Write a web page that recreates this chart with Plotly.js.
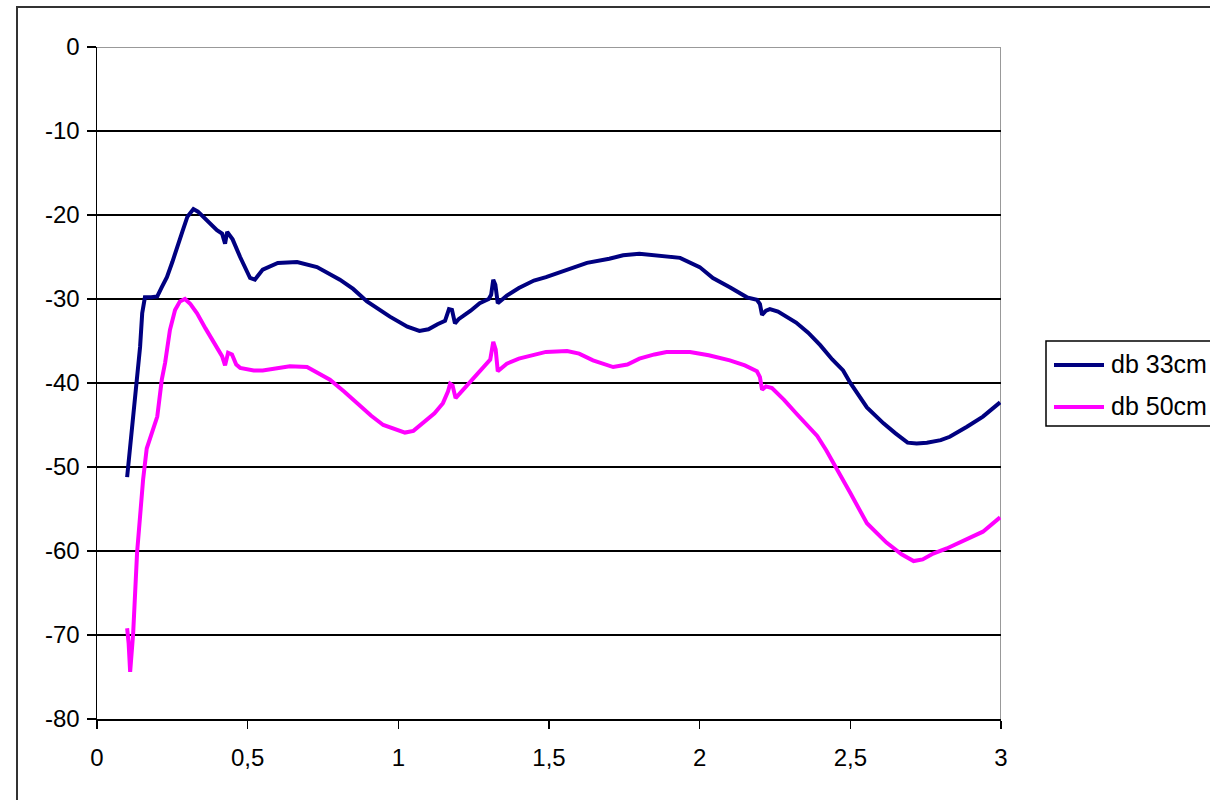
<!DOCTYPE html>
<html>
<head>
<meta charset="utf-8">
<script src="https://cdn.plot.ly/plotly-3.0.1.min.js"></script>
<style>html,body{margin:0;padding:0;background:#fff;}#chart{width:1210px;height:800px;}</style>
</head>
<body>
<div id="chart"></div>
<script>
// db 33cm series
var x33 = [0.100,0.110,0.120,0.133,0.143,0.150,0.159,0.180,0.200,0.215,0.232,0.250,0.265,0.283,0.300,0.320,0.335,0.365,0.398,0.415,0.425,0.432,0.440,0.450,0.475,0.495,0.508,0.524,0.550,0.600,0.664,0.730,0.806,0.850,0.896,0.972,1.030,1.070,1.100,1.130,1.155,1.168,1.178,1.188,1.200,1.240,1.270,1.300,1.308,1.315,1.322,1.330,1.360,1.400,1.450,1.490,1.550,1.626,1.700,1.746,1.800,1.868,1.935,2.000,2.044,2.100,2.157,2.190,2.200,2.207,2.220,2.233,2.260,2.320,2.360,2.400,2.440,2.476,2.500,2.555,2.610,2.650,2.690,2.720,2.754,2.800,2.830,2.887,2.940,2.997];
var y33 = [-51.2,-47.6,-43.6,-39.6,-35.7,-31.7,-29.8,-29.8,-29.7,-28.6,-27.4,-25.6,-23.8,-22.0,-20.2,-19.3,-19.6,-20.6,-21.8,-22.2,-23.4,-22.0,-22.4,-22.9,-25.0,-26.7,-27.5,-27.7,-26.5,-25.7,-25.6,-26.2,-27.7,-28.8,-30.3,-32.1,-33.3,-33.8,-33.6,-33.0,-32.6,-31.2,-31.3,-32.9,-32.4,-31.4,-30.5,-30.0,-29.5,-27.7,-28.3,-30.5,-29.6,-28.7,-27.8,-27.4,-26.7,-25.7,-25.2,-24.8,-24.6,-24.8,-25.1,-26.2,-27.5,-28.6,-29.8,-30.1,-30.6,-31.9,-31.4,-31.2,-31.5,-32.8,-34.0,-35.5,-37.2,-38.5,-40.0,-42.9,-44.8,-46.0,-47.1,-47.2,-47.1,-46.8,-46.4,-45.2,-44.0,-42.3];
// db 50cm series
var x50 = [0.100,0.105,0.110,0.115,0.120,0.133,0.143,0.153,0.165,0.176,0.190,0.200,0.215,0.226,0.242,0.259,0.275,0.292,0.310,0.332,0.360,0.398,0.415,0.425,0.435,0.448,0.462,0.475,0.520,0.550,0.600,0.640,0.697,0.773,0.820,0.863,0.910,0.950,1.000,1.022,1.050,1.082,1.120,1.148,1.165,1.172,1.180,1.190,1.210,1.240,1.270,1.294,1.305,1.315,1.323,1.330,1.360,1.400,1.450,1.490,1.560,1.600,1.646,1.713,1.760,1.800,1.850,1.890,1.968,2.030,2.100,2.150,2.190,2.200,2.207,2.220,2.240,2.280,2.320,2.360,2.390,2.420,2.456,2.500,2.555,2.620,2.670,2.710,2.740,2.775,2.820,2.864,2.940,2.997];
var y50 = [-69.2,-71.0,-74.4,-72.0,-69.8,-60.2,-55.5,-51.5,-47.8,-46.6,-45.0,-44.0,-39.6,-37.6,-33.7,-31.3,-30.3,-30.0,-30.6,-31.7,-33.5,-35.7,-36.8,-37.9,-36.4,-36.6,-37.8,-38.2,-38.5,-38.5,-38.2,-38.0,-38.1,-39.6,-41.0,-42.4,-43.9,-45.0,-45.6,-45.9,-45.7,-44.8,-43.6,-42.4,-41.0,-40.1,-40.3,-41.8,-41.0,-39.9,-38.7,-37.6,-37.2,-35.1,-36.0,-38.6,-37.7,-37.1,-36.6,-36.3,-36.2,-36.5,-37.3,-38.1,-37.8,-37.1,-36.6,-36.3,-36.3,-36.7,-37.3,-37.9,-38.6,-39.3,-40.8,-40.4,-40.6,-42.0,-43.6,-45.2,-46.3,-48.0,-50.4,-53.1,-56.7,-59.0,-60.4,-61.2,-61.0,-60.3,-59.7,-59.0,-57.7,-56.0];
var name33 = "db 33cm";
var name50 = "db 50cm";
var color33 = "#000080";
var color50 = "#FF00FF";
var xTicks = [0, 0.5, 1, 1.5, 2, 2.5, 3];
var xTickText = ["0", "0,5", "1", "1,5", "2", "2,5", "3"];
var yTicks = [0, -10, -20, -30, -40, -50, -60, -70, -80];
var yTickText = ["0", "-10", "-20", "-30", "-40", "-50", "-60", "-70", "-80"];

var FAM = "'Liberation Sans', Arial, sans-serif";
var tickFont = {family: FAM, size: 24, color: "#000"};
var legFont = {family: FAM, size: 25, color: "#000"};

var traces = [
  {x: x33, y: y33, name: name33, type: "scatter", mode: "lines",
   line: {color: color33, width: 4}},
  {x: x50, y: y50, name: name50, type: "scatter", mode: "lines",
   line: {color: color50, width: 4}}
];

// plot area in pixels: left 97, right 1001, top 47, bottom 719
function px(v) { return (v - 97) / 904; }
function py(v) { return (719 - v) / 672; }

var layout = {
  width: 1210, height: 800,
  margin: {l: 97, r: 209, t: 47, b: 81, pad: 0},
  paper_bgcolor: "#fff", plot_bgcolor: "#fff",
  font: tickFont,
  showlegend: false,
  xaxis: {range: [0, 3], tickvals: xTicks, ticktext: xTickText,
          showgrid: false, zeroline: false, showline: true, linecolor: "#000", linewidth: 1.5,
          ticks: "outside", ticklen: 8, tickwidth: 1.5, tickcolor: "#000", tickfont: tickFont,
          ticklabelstandoff: 9, fixedrange: true},
  yaxis: {range: [-80, 0], tickvals: yTicks, ticktext: yTickText,
          showgrid: true, gridcolor: "#000", gridwidth: 1.3, zeroline: false,
          showline: true, linecolor: "#000", linewidth: 1.5,
          ticks: "outside", ticklen: 9, tickwidth: 1.5, tickcolor: "#000", tickfont: tickFont,
          ticklabelstandoff: 2, fixedrange: true},
  shapes: [
    {type: "line", xref: "x", yref: "y", x0: 0, x1: 3, y0: 0, y1: 0, layer: "below",
     line: {color: "#999", width: 2}},
    {type: "line", xref: "x", yref: "y", x0: 3, x1: 3, y0: -80, y1: 0, layer: "below",
     line: {color: "#999", width: 2}},
    {type: "rect", xref: "paper", yref: "paper", x0: px(17), x1: px(1230), y0: py(820), y1: py(7),
     layer: "below", line: {color: "#333", width: 2}, fillcolor: "rgba(0,0,0,0)"},
    // legend box and samples
    {type: "rect", xref: "paper", yref: "paper", x0: px(1046), x1: px(1230), y0: py(426), y1: py(341),
     line: {color: "#000", width: 1.5}, fillcolor: "#fff"},
    {type: "line", xref: "paper", yref: "paper", x0: px(1054), x1: px(1104), y0: py(365), y1: py(365),
     line: {color: color33, width: 4}},
    {type: "line", xref: "paper", yref: "paper", x0: px(1054), x1: px(1104), y0: py(407), y1: py(407),
     line: {color: color50, width: 4}}
  ],
  annotations: [
    {xref: "paper", yref: "paper", x: px(1109), y: py(364), xanchor: "left", yanchor: "middle",
     text: name33, showarrow: false, font: legFont},
    {xref: "paper", yref: "paper", x: px(1109), y: py(406), xanchor: "left", yanchor: "middle",
     text: name50, showarrow: false, font: legFont}
  ]
};

Plotly.newPlot("chart", traces, layout, {displayModeBar: false, staticPlot: true});
</script>
</body>
</html>
